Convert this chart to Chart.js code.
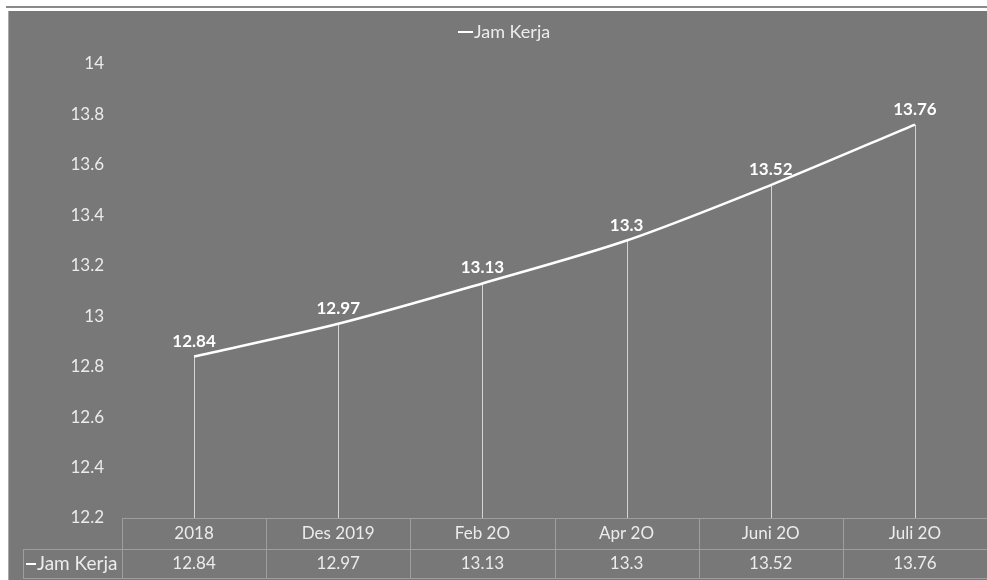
<!DOCTYPE html>
<html>
<head>
<meta charset="utf-8">
<script src="https://cdn.jsdelivr.net/npm/chart.js@4/dist/chart.umd.min.js"></script>
<style>
  html, body { margin: 0; padding: 0; background: #fff; }
  body { width: 987px; height: 580px; position: relative; overflow: hidden; }
  #topline { position: absolute; left: 6px; top: 6px; width: 981px; height: 2px; background: #8a8a8a; }
  #wrap { position: absolute; left: 8px; top: 11px; width: 979px; height: 569px; background: #787878; border-left: 1px solid #a8a8a8; box-sizing: border-box; }
</style>
</head>
<body>
<div id="topline"></div>
<div id="wrap"><canvas id="jamChart" width="978" height="569"></canvas></div>
<script>
const labels = ["2018", "Des 2019", "Feb 2O", "Apr 2O", "Juni 2O", "Juli 2O"];
const jamKerja = [12.84, 12.97, 13.13, 13.3, 13.52, 13.76];
const seriesName = "Jam Kerja";

const FONT = "Lato, 'Open Sans', sans-serif";
const textColor = "#ececec";
const tableLine = "#9e9e9e";

// drop lines, data labels, legend and data table
const extras = {
  id: "extras",
  beforeDatasetsDraw(chart) {
    const ctx = chart.ctx;
    const area = chart.chartArea;
    const pts = chart.getDatasetMeta(0).data;
    ctx.save();
    ctx.strokeStyle = "#d4d4d4";
    ctx.lineWidth = 1;
    pts.forEach(p => {
      const x = Math.round(p.x) + 0.5;
      ctx.beginPath();
      ctx.moveTo(x, p.y);
      ctx.lineTo(x, area.bottom);
      ctx.stroke();
    });
    ctx.restore();
  },
  afterDatasetsDraw(chart) {
    const ctx = chart.ctx;
    const pts = chart.getDatasetMeta(0).data;
    ctx.save();
    ctx.fillStyle = "#ffffff";
    ctx.font = "bold 17px " + FONT;
    ctx.textAlign = "center";
    ctx.textBaseline = "bottom";
    pts.forEach((p, i) => {
      ctx.fillText(String(jamKerja[i]), p.x, p.y - 7);
    });
    ctx.restore();
  },
  afterDraw(chart) {
    const ctx = chart.ctx;
    const area = chart.chartArea;
    const xs = chart.scales.x;
    const top = area.bottom;
    const mid = top + 31;
    const bot = top + 60;
    const legendLeft = 14;
    const step = xs.getPixelForValue(1) - xs.getPixelForValue(0);

    ctx.save();
    ctx.strokeStyle = tableLine;
    ctx.lineWidth = 1;
    ctx.beginPath();
    ctx.moveTo(area.left, top + 0.5); ctx.lineTo(area.right, top + 0.5);
    ctx.moveTo(legendLeft, mid + 0.5); ctx.lineTo(area.right, mid + 0.5);
    ctx.moveTo(legendLeft, bot + 0.5); ctx.lineTo(area.right, bot + 0.5);
    ctx.moveTo(legendLeft + 0.5, mid); ctx.lineTo(legendLeft + 0.5, bot);
    for (let i = 0; i < labels.length; i++) {
      const x = Math.round(xs.getPixelForValue(i) - step / 2) + 0.5;
      ctx.moveTo(x, top); ctx.lineTo(x, bot);
    }
    ctx.stroke();

    ctx.fillStyle = textColor;
    ctx.font = "17px " + FONT;
    ctx.textAlign = "center";
    ctx.textBaseline = "middle";
    labels.forEach((l, i) => {
      const x = xs.getPixelForValue(i);
      ctx.fillText(l, x, top + 16);
      ctx.fillText(String(jamKerja[i]), x, mid + 15);
    });

    // legend key inside table
    ctx.strokeStyle = "#ffffff";
    ctx.lineWidth = 2;
    ctx.beginPath();
    ctx.moveTo(17, mid + 15); ctx.lineTo(27, mid + 15);
    ctx.stroke();
    ctx.textAlign = "left";
    ctx.font = "19px " + FONT;
    ctx.fillText(seriesName, 28, mid + 15);

    // top legend
    ctx.font = "18px " + FONT;
    const lx = 449;
    ctx.beginPath();
    ctx.moveTo(lx, 21); ctx.lineTo(lx + 15, 21);
    ctx.stroke();
    ctx.fillText(seriesName, lx + 16, 21);
    ctx.restore();
  }
};

new Chart(document.getElementById("jamChart"), {
  type: "line",
  data: {
    labels: labels,
    datasets: [{
      label: seriesName,
      data: jamKerja,
      borderColor: "#ffffff",
      borderWidth: 2.5,
      tension: 0.3,
      pointRadius: 0,
      fill: false,
      clip: false,
    }],
  },
  options: {
    responsive: false,
    animation: false,
    layout: { padding: { top: 53, left: 0, right: 0, bottom: 0 } },
    plugins: {
      legend: { display: false },
      tooltip: { enabled: false },
    },
    scales: {
      x: {
        type: "category",
        offset: true,
        ticks: { display: false },
        grid: { display: false, drawTicks: false },
        border: { display: false },
        afterFit(s) { s.height = 62; },
      },
      y: {
        min: 12.2,
        max: 14,
        ticks: {
          stepSize: 0.2,
          padding: 18,
          color: textColor,
          font: { family: FONT, size: 17 },
          callback: v => String(Math.round(v * 10) / 10),
        },
        grid: { display: false, drawTicks: false },
        border: { display: false },
        afterFit(s) { s.width = 113; },
      },
    },
  },
  plugins: [extras],
});
</script>
</body>
</html>
